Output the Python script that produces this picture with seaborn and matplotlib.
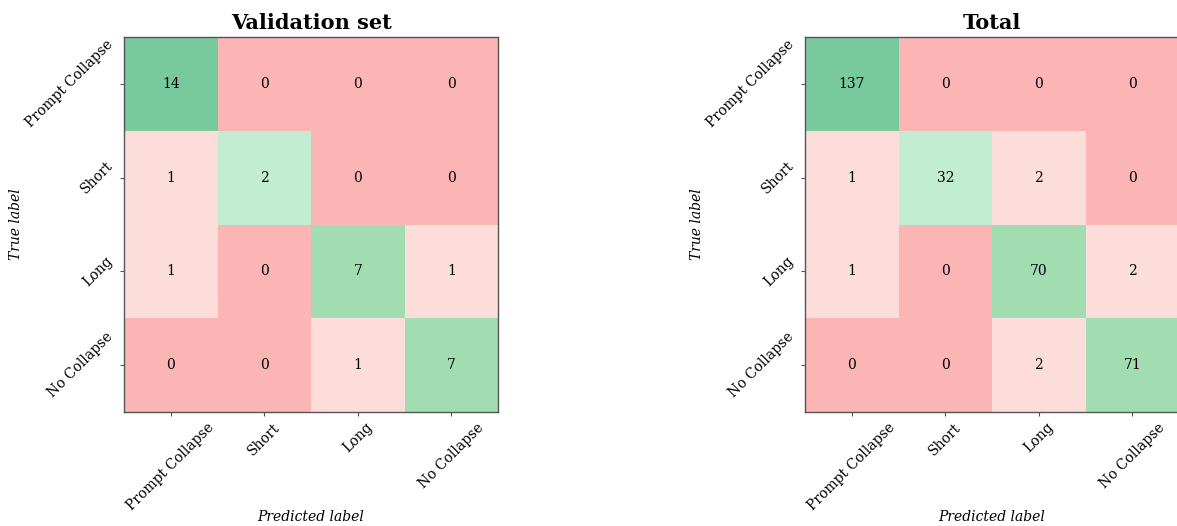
import numpy as np
import matplotlib
matplotlib.use("Agg")
import matplotlib.pyplot as plt
from matplotlib.colors import ListedColormap
import seaborn as sns

# Confusion matrix data
class_names = ["Prompt Collapse", "Short", "Long", "No Collapse"]
val_counts = np.array([[14, 0, 0, 0],
                       [1, 2, 0, 0],
                       [1, 0, 7, 1],
                       [0, 0, 1, 7]])
total_counts = np.array([[137, 0, 0, 0],
                         [1, 32, 2, 0],
                         [1, 0, 70, 2],
                         [0, 0, 2, 71]])
titles = ["Validation set", "Total"]

# zero off-diag, nonzero off-diag, light/mid/dark green on diagonal
cell_colors = ["#fcb5b5", "#fdddd9", "#c3edd1", "#a2ddb2", "#78c99c"]
cmap = ListedColormap(cell_colors)


def color_codes(cm):
    codes = np.zeros(cm.shape, dtype=int)
    diag_max = np.diag(cm).max()
    for i in range(cm.shape[0]):
        for j in range(cm.shape[1]):
            v = cm[i, j]
            if i == j:
                frac = v / diag_max
                codes[i, j] = 4 if frac > 0.8 else (3 if frac > 0.3 else 2)
            else:
                codes[i, j] = 1 if v > 0 else 0
    return codes


plt.rcParams["font.family"] = "DejaVu Serif"

fig = plt.figure(figsize=(11.77, 5.26), dpi=100)
ax_pos = [[0.1054, 0.2167, 0.3178, 0.7129],
          [0.6840, 0.2167, 0.3178, 0.7129]]

for pos, cm, title in zip(ax_pos, [val_counts, total_counts], titles):
    ax = fig.add_axes(pos)
    sns.heatmap(color_codes(cm), annot=cm, fmt="d", cmap=cmap, vmin=-0.5, vmax=4.5,
                cbar=False, square=False, ax=ax,
                xticklabels=class_names, yticklabels=class_names,
                annot_kws={"fontsize": 10, "color": "black"})
    for s in ax.spines.values():
        s.set_visible(True)
        s.set_color("#555555")
        s.set_linewidth(1.0)
    ax.tick_params(axis="both", length=3, color="#555555", labelsize=10, pad=3)
    plt.setp(ax.get_xticklabels(), rotation=45, ha="center")
    plt.setp(ax.get_yticklabels(), rotation=45, va="center")
    ax.set_title(title, fontsize=15, fontweight="bold", pad=6)
    ax.set_xlabel("Predicted label", fontsize=10, style="italic")
    ax.set_ylabel("True label", fontsize=10, style="italic")
    ax.xaxis.set_label_coords(0.5, -0.262)
    ax.yaxis.set_label_coords(-0.27, 0.5)

fig.savefig("out.png", dpi=100)
